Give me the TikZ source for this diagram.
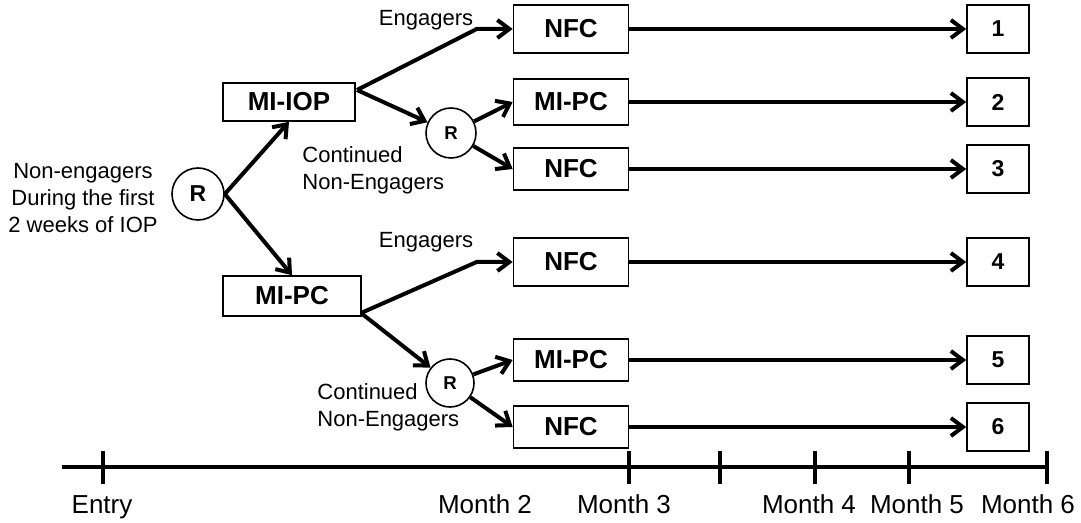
\documentclass[tikz,border=0pt]{standalone}
\usepackage{fontspec}
\setmainfont{Liberation Sans}
\usetikzlibrary{arrows.meta}

\begin{document}
\begin{tikzpicture}[
		x=0.5pt, y=-0.5pt,
		txt/.style={align=center, inner sep=0pt, font=\fontsize{11}{13.5}\selectfont},
		arm/.style={draw, rectangle, line width=0.8pt, inner sep=0pt, minimum width=57.5pt, font=\bfseries\fontsize{13}{15}\selectfont},
		num/.style={draw, rectangle, line width=0.8pt, inner sep=0pt, minimum width=31pt, minimum height=24pt, font=\bfseries\fontsize{11.5}{13}\selectfont},
		rand/.style={draw, circle, line width=0.8pt, inner sep=0pt},
		flow/.style={line width=2pt, -{Straight Barb[length=6pt,width=9pt]}},
		month/.style={anchor=base, inner sep=0pt, font=\fontsize{13}{15}\selectfont}
	]
  \useasboundingbox (0,0) rectangle (1081,523);
  \node (start) [txt] at (83,198) {Non-engagers\\During the first\\2 weeks of IOP};
  \node (r_0) [rand, minimum size=26pt, font=\bfseries\fontsize{11.5}{13}\selectfont] at (198,194) {R};
  \node (mi_iop) [arm, minimum width=66pt, minimum height=19pt] at (289,102) {MI-IOP};
  \node (mi_pc) [arm, minimum width=69pt, minimum height=20pt] at (292,296) {MI-PC};
  \node (r_1) [rand, minimum size=25pt, font=\bfseries\fontsize{9.3}{11}\selectfont] at (451,133) {R};
  \node (r_2) [rand, minimum size=24pt, font=\bfseries\fontsize{9.3}{11}\selectfont] at (450,383) {R};
  \node (eng_1) [month, font=\fontsize{11}{13}\selectfont] at (426,26) {Engagers};
  \node (eng_2) [month, font=\fontsize{11}{13}\selectfont] at (426,248) {Engagers};
  \node (cont_1) [txt, align=left, anchor=west] at (302,170) {Continued\\Non-Engagers};
  \node (cont_2) [txt, align=left, anchor=west] at (317,407) {Continued\\Non-Engagers};
  % arms after the second step
  \node (nfc_1) [arm, minimum height=24pt] at (571,29) {NFC};
  \node (mipc_2) [arm, minimum height=23pt] at (571,102) {MI-PC};
  \node (nfc_3) [arm, minimum height=21pt] at (571,169) {NFC};
  \node (nfc_4) [arm, minimum height=24pt] at (571,262) {NFC};
  \node (mipc_5) [arm, minimum height=21pt] at (571,360) {MI-PC};
  \node (nfc_6) [arm, minimum height=21pt] at (571,427) {NFC};
  \foreach \y [count=\i] in {29,102,169,262,360,427}
    \node (n_\i) [num] at (998,\y) {\i};
  \coordinate (iop_split) at (357,90);
  \coordinate (pc_split) at (361,313);
  \draw[flow] (r_0.east) -- (mi_iop.south);
  \draw[flow] (r_0.east) -- (mi_pc.north);
  \draw[flow] (iop_split) -- ([xshift=-18pt]nfc_1.west) -- (nfc_1.west);
  \draw[flow] (iop_split) -- (r_1);
  \draw[flow] (r_1) -- (mipc_2.west);
  \draw[flow] (r_1) -- (nfc_3.west);
  \draw[flow] (pc_split) -- ([xshift=-18pt]nfc_4.west) -- (nfc_4.west);
  \draw[flow] (pc_split) -- (r_2);
  \draw[flow] (r_2) -- (mipc_5.west);
  \draw[flow] (r_2) -- (nfc_6.west);
  \draw[flow] (nfc_1) -- (n_1);
  \draw[flow] (mipc_2) -- (n_2);
  \draw[flow] (nfc_3) -- (n_3);
  \draw[flow] (nfc_4) -- (n_4);
  \draw[flow] (mipc_5) -- (n_5);
  \draw[flow] (nfc_6) -- (n_6);
  % time line
  \draw[line width=2pt] (62,467) -- (1047,467);
  \foreach \x in {103,629,720,815,909,1047}
    \draw[line width=1.6pt] (\x,451) -- (\x,484);
  \foreach \x/\t [count=\i] in {102/Entry,485/Month 2,624/Month 3,809/Month 4,917/Month 5,1028/Month 6}
    \node (time_\i) [month] at (\x,513) {\t};
\end{tikzpicture}
\end{document}
